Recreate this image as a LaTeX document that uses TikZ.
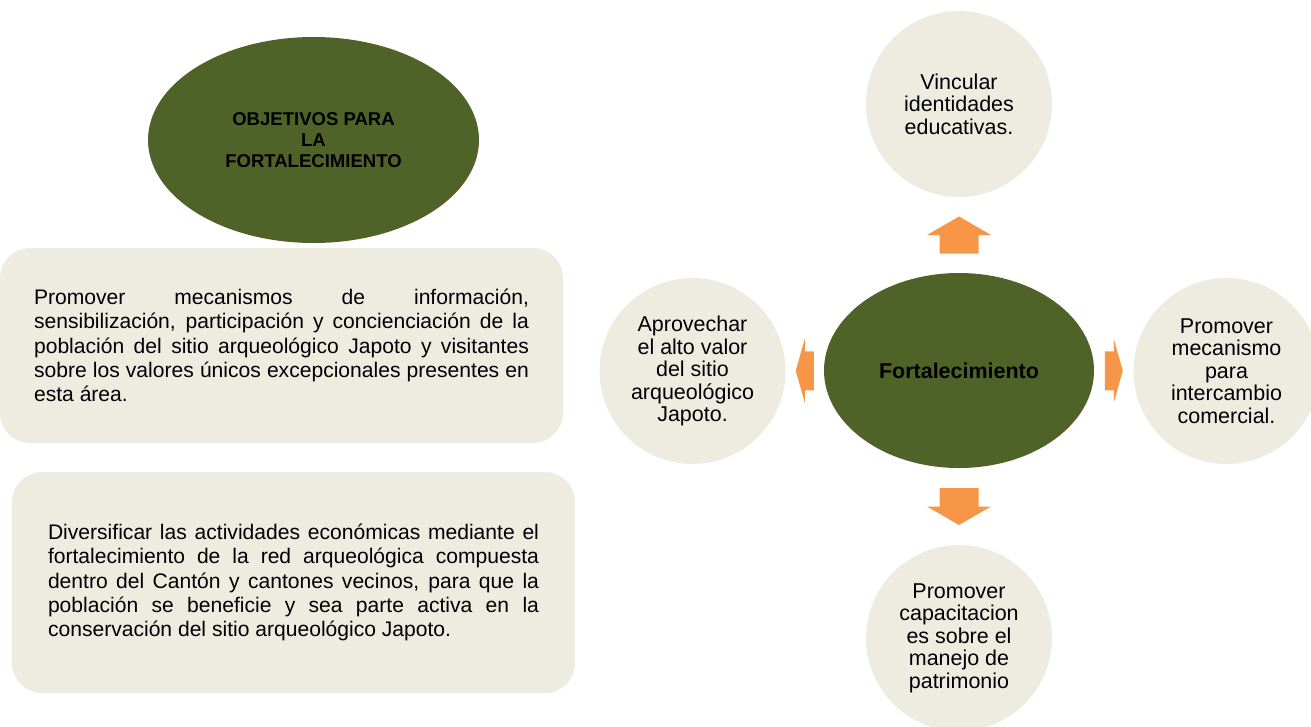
\documentclass[tikz,border=0pt]{standalone}
\usepackage{fontspec}
\setmainfont{Liberation Sans}
\usetikzlibrary{shapes.geometric,calc}

\definecolor{verdeosc}{HTML}{4F6228}
\definecolor{crema}{HTML}{EEECE1}
\definecolor{naranja}{HTML}{F79646}

\newcommand{\px}{0.018cm}
\hyphenpenalty=10000

\begin{document}
\begin{tikzpicture}[x=\px, y=-\px,
    elipse/.style={ellipse, fill=verdeosc, inner sep=0pt, align=center},
    caja/.style={rectangle, fill=crema, rounded corners=0.54cm, inner sep=0pt, align=justify,
        font=\fontsize{10.8}{12.5}\selectfont},
    circulo/.style={circle, fill=crema, minimum size=186*\px, inner sep=0pt, align=center,
        font=\fontsize{11}{11.5}\selectfont},
    flecha/.style={fill=naranja}]

    \useasboundingbox (0, 0) rectangle (1311, 726);

    % 1. Titulo y cajas de objetivos
    \node[elipse, minimum width=331*\px, minimum height=206*\px,
        font=\fontsize{9.5}{10.8}\selectfont\bfseries] (obj) at (313.5, 140)
        {OBJETIVOS PARA\\LA\\FORTALECIMIENTO};

    \node[caja, minimum width=563*\px, minimum height=195*\px, text width=8.91cm] (caja1) at (281.5, 345.5)
        {Promover mecanismos de información,\linebreak
         sensibilización, participación y concienciación de la\linebreak
         población del sitio arqueológico Japoto y visitantes\linebreak
         sobre los valores únicos excepcionales presentes en\linebreak
         esta área.};

    \node[caja, minimum width=563*\px, minimum height=221*\px, text width=8.84cm] (caja2) at (293.5, 582.5)
        {Diversificar las actividades económicas mediante el\linebreak
         fortalecimiento de la red arqueológica compuesta\linebreak
         dentro del Cantón y cantones vecinos, para que la\linebreak
         población se beneficie y sea parte activa en la\linebreak
         conservación del sitio arqueológico Japoto.};

    % 2. Elipse central y circulos
    \node[elipse, minimum width=270*\px, minimum height=195*\px,
        font=\fontsize{11}{12}\selectfont\bfseries] (fort) at (959, 370.5) {Fortalecimiento};

    \node[circulo] (vin) at (959, 104) {Vincular\\identidades\\educativas.};
    \node[circulo] (apr) at (692.5, 371) {Aprovechar\\el alto valor\\del sitio\\arqueológico\\Japoto.};
    \node[circulo] (com) at (1226.5, 371) {Promover\\mecanismo\\para\\intercambio\\comercial.};
    \node[circulo] (cap) at (959, 638) {Promover\\capacitacion\\es sobre el\\manejo de\\patrimonio};

    % 3. Flechas entre la elipse y los circulos
    \coordinate (fa) at ($(fort.north)!0.5!(vin.south)$);
    \coordinate (fb) at ($(fort.south)!0.5!(cap.north)$);
    \coordinate (fi) at ($(fort.west)!0.5!(apr.east)$);
    \coordinate (fd) at ($(fort.east)!0.5!(com.west)$);

    \fill[flecha, shift={(fa)}] (-19.5, 18.5) -- (-19.5, 0) -- (-32, 0) -- (0, -18.5)
        -- (32, 0) -- (19.5, 0) -- (19.5, 18.5) -- cycle;
    \fill[flecha, shift={(fb)}] (-19.5, -18.5) -- (-19.5, 0) -- (-32, 0) -- (0, 18.5)
        -- (32, 0) -- (19.5, 0) -- (19.5, -18.5) -- cycle;
    \fill[flecha, shift={(fi)}] (9, -19.5) -- (0, -19.5) -- (0, -32) -- (-9, 0)
        -- (0, 32) -- (0, 19.5) -- (9, 19.5) -- cycle;
    \fill[flecha, shift={(fd)}] (-9, -19.5) -- (0, -19.5) -- (0, -32) -- (9, 0)
        -- (0, 32) -- (0, 19.5) -- (-9, 19.5) -- cycle;

\end{tikzpicture}
\end{document}
